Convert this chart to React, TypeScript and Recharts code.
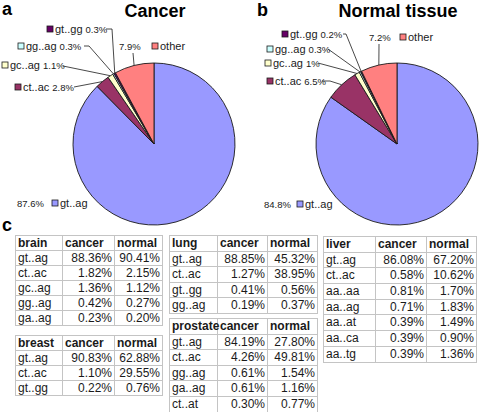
import React from 'react';
import { PieChart, Pie, Cell } from 'recharts';

// ---------- data ----------
const spliceSites = ['gt..ag', 'ct..ac', 'gc..ag', 'gg..ag', 'gt..gg', 'other'];
const cancerShare = [87.6, 2.8, 1.1, 0.3, 0.3, 7.9];
const normalShare = [84.8, 6.5, 1, 0.3, 0.2, 7.2];

const brainRows = ['gt..ag', 'ct..ac', 'gc..ag', 'gg..ag', 'ga..ag'];
const brainCancer = [88.36, 1.82, 1.36, 0.42, 0.23];
const brainNormal = [90.41, 2.15, 1.12, 0.27, 0.2];

const breastRows = ['gt..ag', 'ct..ac', 'gt..gg'];
const breastCancer = [90.83, 1.1, 0.22];
const breastNormal = [62.88, 29.55, 0.76];

const lungRows = ['gt..ag', 'ct..ac', 'gt..gg', 'gg..ag'];
const lungCancer = [88.85, 1.27, 0.41, 0.19];
const lungNormal = [45.32, 38.95, 0.56, 0.37];

const prostateRows = ['gt..ag', 'ct..ac', 'gg..ag', 'ga..ag', 'ct..at'];
const prostateCancer = [84.19, 4.26, 0.61, 0.61, 0.3];
const prostateNormal = [27.8, 49.81, 1.54, 1.16, 0.77];

const liverRows = ['gt..ag', 'ct..ac', 'aa..aa', 'aa..ag', 'aa..at', 'aa..ca', 'aa..tg'];
const liverCancer = [86.08, 0.58, 0.81, 0.71, 0.39, 0.39, 0.39];
const liverNormal = [67.2, 10.62, 1.7, 1.83, 1.49, 0.9, 1.36];

// ---------- styles ----------
const sliceColors = ['#9999FF', '#993366', '#FFFFCC', '#CCFFFF', '#660066', '#FF8080'];
const FONT = '"Liberation Sans", Arial, Helvetica, sans-serif';
const INK = '#1a1a1a';

type LabelLayout = {
  kind: 'key' | 'value';
  x: number; // square x (key-first) or value x (value-first)
  sq?: number; // square x for value-first
  y: number;
  line?: number[][];
};

const cancerLayout: LabelLayout[] = [
  { kind: 'value', x: 17, sq: 52, y: 203 },
  { kind: 'key', x: 15, y: 87, line: [[74, 87]] },
  { kind: 'key', x: 2, y: 65, line: [[63, 66]] },
  { kind: 'key', x: 18, y: 46, line: [[84, 46], [89, 46]] },
  { kind: 'key', x: 47, y: 29, line: [[106, 29], [112, 29]] },
  { kind: 'value', x: 119, sq: 152, y: 46, line: [[133, 53]] },
];

const normalLayout: LabelLayout[] = [
  { kind: 'value', x: 264, sq: 297, y: 204 },
  { kind: 'key', x: 267, y: 81, line: [[322, 81], [330, 81]] },
  { kind: 'key', x: 265, y: 63, line: [[318, 63]] },
  { kind: 'key', x: 267, y: 49, line: [[328, 49]] },
  { kind: 'key', x: 282, y: 34, line: [[343, 34], [346, 34]] },
  { kind: 'value', x: 369, sq: 400, y: 37, line: [[379, 44]] },
];

const RAD = Math.PI / 180;

function makeLabel(layout: LabelLayout[]) {
  return (props: any) => {
    const { cx, cy, midAngle, outerRadius, index, value, payload } = props;
    const L = layout[index];
    if (!L) return null;
    const ex = cx + outerRadius * Math.cos(-midAngle * RAD);
    const ey = cy + outerRadius * Math.sin(-midAngle * RAD);
    const name = payload?.name ?? spliceSites[index];
    const color = sliceColors[index];
    const pts = L.line ? [...L.line, [ex, ey]].map((p) => p.join(',')).join(' ') : null;
    const valueText = `${value}%`;
    return (
      <g key={`lab-${index}`}>
        {pts && <polyline points={pts} fill="none" stroke={INK} strokeWidth={0.8} />}
        {L.kind === 'key' ? (
          <>
            <rect x={L.x} y={L.y - 3} width={6} height={6} fill={color} stroke={INK} strokeWidth={0.8} />
            <text x={L.x + 8} y={L.y + 4} fontSize={11} fill={INK} fontFamily={FONT}>
              {name}
              <tspan fontSize={9.5} dx={3}>{valueText}</tspan>
            </text>
          </>
        ) : (
          <>
            <text x={L.x} y={L.y + 3.5} fontSize={9.5} fill={INK} fontFamily={FONT}>{valueText}</text>
            <rect x={L.sq} y={L.y - 3} width={6} height={6} fill={color} stroke={INK} strokeWidth={0.8} />
            <text x={(L.sq as number) + 8} y={L.y + 4} fontSize={11} fill={INK} fontFamily={FONT}>{name}</text>
          </>
        )}
      </g>
    );
  };
}

const cancerData = spliceSites.map((name, i) => ({ name, value: cancerShare[i] }));
const normalData = spliceSites.map((name, i) => ({ name, value: normalShare[i] }));

type TableProps = {
  title: string;
  rows: string[];
  cancer: number[];
  normal: number[];
  left: number;
  top: number;
  cols: number[];
  rowH: number;
};

function DataTable({ title, rows, cancer, normal, left, top, cols, rowH }: TableProps) {
  const border = '1px solid #c4c4c4';
  const cell = (w: number, align: 'left' | 'right', bold = false): React.CSSProperties => ({
    width: w,
    height: rowH,
    boxSizing: 'border-box',
    borderRight: border,
    borderBottom: border,
    padding: align === 'left' ? '0 0 0 2px' : '0 2px 0 0',
    textAlign: align,
    fontWeight: bold ? 'bold' : 'normal',
    fontSize: 12,
    lineHeight: `${rowH}px`,
    whiteSpace: 'nowrap',
    overflow: 'visible',
    color: INK,
  });
  const rowStyle: React.CSSProperties = { display: 'flex' };
  return (
    <div
      style={{
        position: 'absolute',
        left,
        top,
        borderLeft: border,
        borderTop: border,
        fontFamily: FONT,
        background: '#fff',
      }}
    >
      <div style={rowStyle}>
        <div style={cell(cols[0], 'left', true)}>{title}</div>
        <div style={cell(cols[1], 'left', true)}>cancer</div>
        <div style={cell(cols[2], 'left', true)}>normal</div>
      </div>
      {rows.map((r, i) => (
        <div style={rowStyle} key={r + i}>
          <div style={cell(cols[0], 'left')}>{r}</div>
          <div style={cell(cols[1], 'right')}>{cancer[i].toFixed(2)}%</div>
          <div style={cell(cols[2], 'right')}>{normal[i].toFixed(2)}%</div>
        </div>
      ))}
    </div>
  );
}

export default function App() {
  return (
    <div
      style={{
        position: 'absolute',
        left: 0,
        top: 0,
        width: 481,
        height: 412,
        background: '#fff',
        overflow: 'hidden',
        fontFamily: FONT,
      }}
    >
      <div style={{ position: 'absolute', left: 0, top: 0 }}>
        <PieChart width={481} height={232} margin={{ top: 0, right: 0, bottom: 0, left: 0 }}>
          <Pie
            data={cancerData}
            dataKey="value"
            nameKey="name"
            cx={154}
            cy={144}
            outerRadius={81}
            startAngle={90}
            endAngle={-270}
            stroke={INK}
            strokeWidth={0.9}
            labelLine={false}
            label={makeLabel(cancerLayout)}
            isAnimationActive={false}
          >
            {cancerData.map((d, i) => (
              <Cell key={d.name} fill={sliceColors[i]} />
            ))}
          </Pie>
          <Pie
            data={normalData}
            dataKey="value"
            nameKey="name"
            cx={397}
            cy={144}
            outerRadius={81}
            startAngle={90}
            endAngle={-270}
            stroke={INK}
            strokeWidth={0.9}
            labelLine={false}
            label={makeLabel(normalLayout)}
            isAnimationActive={false}
          >
            {normalData.map((d, i) => (
              <Cell key={d.name} fill={sliceColors[i]} />
            ))}
          </Pie>
        </PieChart>
      </div>

      <svg
        width={481}
        height={412}
        style={{ position: 'absolute', left: 0, top: 0, pointerEvents: 'none' }}
      >
        <text x={2} y={15} fontSize={18} fontWeight="bold" fill="#000" fontFamily={FONT}>a</text>
        <text x={155} y={17} fontSize={18} fontWeight="bold" fill="#000" textAnchor="middle" fontFamily={FONT}>Cancer</text>
        <text x={257} y={16} fontSize={18} fontWeight="bold" fill="#000" fontFamily={FONT}>b</text>
        <text x={398} y={17} fontSize={18} fontWeight="bold" fill="#000" textAnchor="middle" fontFamily={FONT}>Normal tissue</text>
        <text x={2} y={231} fontSize={18} fontWeight="bold" fill="#000" fontFamily={FONT}>c</text>
      </svg>

      <DataTable title="brain" rows={brainRows} cancer={brainCancer} normal={brainNormal} left={15} top={235} cols={[47, 52, 48]} rowH={15} />
      <DataTable title="breast" rows={breastRows} cancer={breastCancer} normal={breastNormal} left={15} top={335} cols={[47, 52, 48]} rowH={15} />
      <DataTable title="lung" rows={lungRows} cancer={lungCancer} normal={lungNormal} left={169} top={235} cols={[48, 50, 50]} rowH={15.6} />
      <DataTable title="prostate" rows={prostateRows} cancer={prostateCancer} normal={prostateNormal} left={169} top={318} cols={[48, 50, 50]} rowH={15.6} />
      <DataTable title="liver" rows={liverRows} cancer={liverCancer} normal={liverNormal} left={323} top={236} cols={[52, 51, 50]} rowH={15.7} />
    </div>
  );
}
